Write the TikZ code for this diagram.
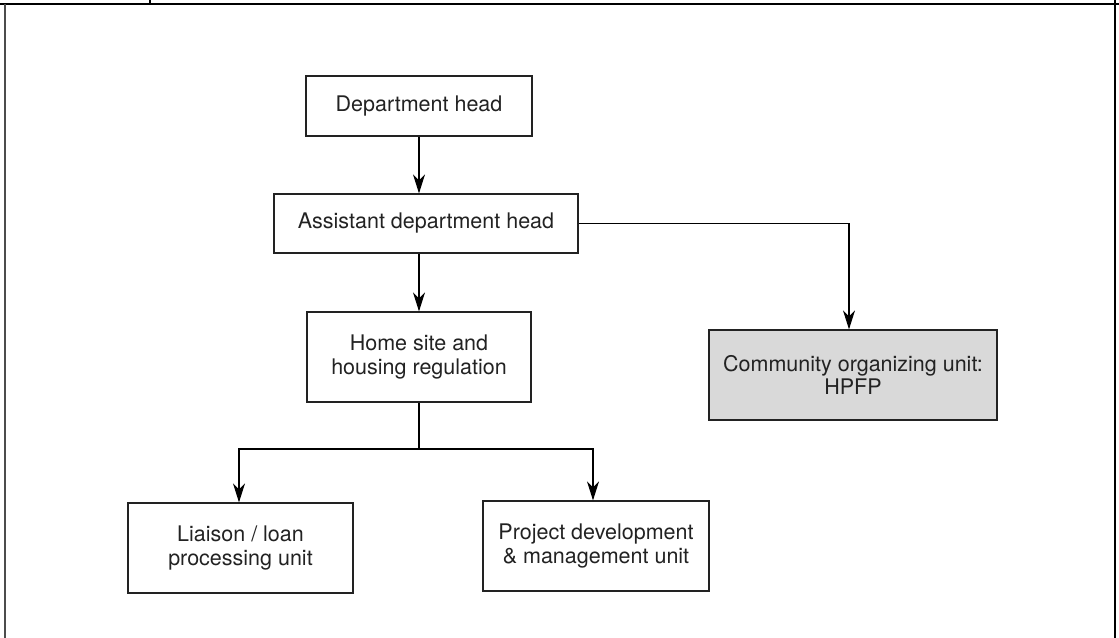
\documentclass[tikz,border=0pt]{standalone}
\usepackage{fontspec}
\setmainfont{TeX Gyre Heros}
\usepackage{xcolor}
\usetikzlibrary{arrows.meta}
\definecolor{unitgray}{HTML}{D9D9D9}
\definecolor{inkgray}{HTML}{222222}

\begin{document}
\begin{tikzpicture}[x=1bp,y=-1bp,
		box/.style={draw=inkgray,line width=1.2bp,align=center,text=inkgray,inner sep=0pt,
			font=\fontsize{21.5bp}{23.5bp}\selectfont},
		arr/.style={line width=1.2bp,-{Stealth[length=19bp,width=12bp,inset=6bp]}}]
			\useasboundingbox (0,0) rectangle (1119,638);
			% frame
			\draw[line width=1.6bp] (0,4) -- (1119,4);
			\draw[line width=1.6bp,black!70] (5,4) -- (5,638);
			\draw[line width=1.6bp] (1115,0) -- (1115,638);
			\draw[line width=1.2bp] (150,0) -- (150,4);
			% units
			\node[box,minimum width=226bp,minimum height=60bp] (dept) at (419,106) {Department head};
			\node[box,minimum width=304bp,minimum height=59bp] (asst) at (426,223.5) {Assistant department head};
			\node[box,minimum width=224bp,minimum height=90bp] (home) at (419,357) {Home site and\\housing regulation};
			\node[box,fill=unitgray,minimum width=288bp,minimum height=90bp] (comm) at (853,375) {Community organizing unit:\\HPFP};
			\node[box,minimum width=225bp,minimum height=90bp] (liai) at (240.5,548) {Liaison / loan\\processing unit};
			\node[box,minimum width=226bp,minimum height=90bp] (proj) at (596,546) {Project development\\\& management unit};
			\coordinate (split) at (419,449);
			% connectors
			\draw[arr] (dept.south) -- (dept.south |- asst.north);
			\draw[arr] (home.north |- asst.south) -- (home.north);
			\draw[arr] (asst.east) -| ([xshift=-4bp]comm.north);
			\draw[line width=1.2bp] (home.south) -- (split);
			\draw[arr] (split) -| ([xshift=-1.5bp]liai.north);
			\draw[arr] (split) -| ([xshift=-3bp]proj.north);
		\end{tikzpicture}
\end{document}
